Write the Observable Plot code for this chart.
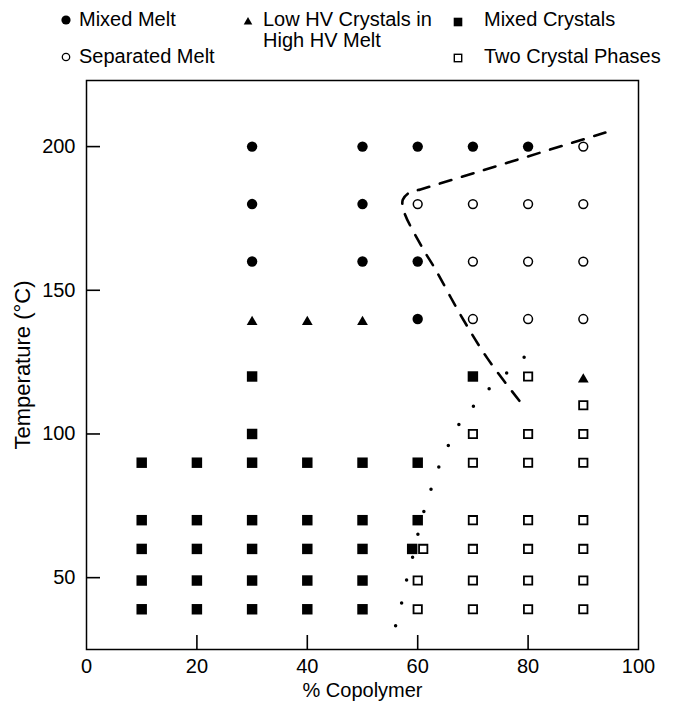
<!DOCTYPE html>
<html><head><meta charset="utf-8">
<script src="https://cdn.jsdelivr.net/npm/d3@7"></script>
<script src="https://cdn.jsdelivr.net/npm/@observablehq/plot@0.6"></script>
<style>
body{margin:0;background:#fff;font-family:"Liberation Sans",Arial,Helvetica,sans-serif;color:#000;}
#legend{position:relative;width:680px;height:72px;font-size:20px;}
#legend svg{position:absolute;left:0;top:0;}
.lab{position:absolute;line-height:21px;white-space:nowrap;}
.lab div{height:21px;}
</style></head><body>
<div id="legend"></div>
<div id="chart"></div>
<script>
// ---- data ----
const phases = ["Mixed Melt", "Separated Melt", "Low HV Crystals in\nHigh HV Melt", "Mixed Crystals", "Two Crystal Phases"];
const xDomain = [0, 100];
const yDomain = [25, 223];
const xTicks = [0, 20, 40, 60, 80, 100];
const xTickMarks = [20, 40, 60, 80];
const yTicks = [50, 100, 150, 200];
const mixedMelt = [[30,200],[50,200],[60,200],[70,200],[80,200],[30,180],[50,180],[30,160],[50,160],[60,160],[60,140]];
const separatedMelt = [[90,200],[60,180],[70,180],[80,180],[90,180],[70,160],[80,160],[90,160],[70,140],[80,140],[90,140]];
const lowHVCrystals = [[30,139],[40,139],[50,139],[90,119]];
const mixedCrystals = [[30,120],[70,120],[30,100],
  [10,90],[20,90],[30,90],[40,90],[50,90],[60,90],
  [10,70],[20,70],[30,70],[40,70],[50,70],[60,70],
  [10,60],[20,60],[30,60],[40,60],[50,60],[59,60],
  [10,49],[20,49],[30,49],[40,49],[50,49],
  [10,39],[20,39],[30,39],[40,39],[50,39]];
const twoCrystalPhases = [[80,120],[90,110],[70,100],[80,100],[90,100],[70,90],[80,90],[90,90],
  [70,70],[80,70],[90,70],[61,60],[70,60],[80,60],[90,60],
  [60,49],[70,49],[80,49],[90,49],[60,39],[70,39],[80,39],[90,39]];
// phase boundaries
const meltBoundary = [[94.0,204.9],[60.5,185.1],[58.5,184.0],[57.3,181.5],[57.5,177.5],[60.7,165.3],[63.2,157.3],[67.8,141.3],[72.6,126.4],[78.6,111.1]];
const crystalBoundary = [[56.0,33.3],[57.1,41.3],[58.0,49.3],[59.1,57.3],[60.1,65.6],[61.2,73.6],[62.5,81.3],[63.9,88.9],[65.6,96.2],[67.6,103.8],[70.1,109.7],[73.2,116.3],[76.3,121.5],[79.3,126.7]];

// ---- legend (layout only) ----
const legendLayout = [
  {cx:66, cy:20, tx:79, ty:9, sym:"circle", filled:true},
  {cx:66, cy:57, tx:79, ty:46, sym:"circle", filled:false},
  {cx:248, cy:21, tx:263, ty:9, sym:"triangle", filled:true},
  {cx:458, cy:22, tx:484, ty:9, sym:"square", filled:true},
  {cx:458, cy:58, tx:484, ty:46, sym:"square", filled:false}
];
const legend = d3.select("#legend");
const lsvg = legend.append("svg").attr("width", 680).attr("height", 72);
phases.forEach((p, i) => {
  const L = legendLayout[i];
  if (L.sym === "circle") lsvg.append("circle").attr("cx", L.cx).attr("cy", L.cy).attr("r", L.filled ? 4.6 : 3.7)
      .attr("fill", L.filled ? "#000" : "#fff").attr("stroke", "#000").attr("stroke-width", L.filled ? 0 : 1.3);
  if (L.sym === "triangle") lsvg.append("path").attr("transform", `translate(${L.cx},${L.cy})`)
      .attr("d", "M0,-4L4.3,3.5L-4.3,3.5Z").attr("fill", "#000");
  if (L.sym === "square") {
    const s = L.filled ? 8.6 : 7.4;
    lsvg.append("rect").attr("x", L.cx - s/2).attr("y", L.cy - s/2).attr("width", s).attr("height", s)
      .attr("fill", L.filled ? "#000" : "#fff").attr("stroke", "#000").attr("stroke-width", L.filled ? 0 : 1.4);
  }
  const t = legend.append("div").attr("class", "lab").style("left", L.tx + "px").style("top", L.ty + "px");
  p.split("\n").forEach(line => t.append("div").text(line));
});

// ---- chart ----
const W = 680, H = 635, mT = 8, mB = 58, mL = 86, mR = 42, tickLen = 14;
const plotW = W - mL - mR, plotH = H - mT - mB;
const xTickEnd = xDomain[0] + (xDomain[1] - xDomain[0]) * tickLen / plotW;   // inward tick length in x units
const yTickEnd = yDomain[0] + (yDomain[1] - yDomain[0]) * tickLen / plotH;   // inward tick length in y units
const chart = Plot.plot({
  width: W, height: H,
  marginTop: mT, marginBottom: mB, marginLeft: mL, marginRight: mR,
  style: {fontFamily: "'Liberation Sans', Arial, Helvetica, sans-serif", fontSize: "20px", color: "#000", background: "#fff"},
  x: {domain: xDomain},
  y: {domain: yDomain},
  marks: [
    Plot.frame({stroke: "#000", strokeWidth: 1.5}),
    Plot.ruleX(xTickMarks, {x: d => d, y1: yDomain[0], y2: yTickEnd, stroke: "#000", strokeWidth: 1.6}),
    Plot.ruleY(yTicks, {y: d => d, x1: xDomain[0], x2: xTickEnd, stroke: "#000", strokeWidth: 1.6}),
    Plot.axisX(xTicks, {tickSize: 0, tickPadding: 9, label: "% Copolymer", labelAnchor: "center", labelOffset: 47, labelArrow: "none"}),
    Plot.axisY(yTicks, {tickSize: 0, tickPadding: 11, label: null}),
    Plot.axisY(yTicks, {tickSize: 0, tickFormat: () => "", label: "Temperature (°C)", labelAnchor: "center", labelOffset: 72, labelArrow: "none", fontSize: 22}),
    Plot.line(meltBoundary, {x: d => d[0], y: d => d[1], curve: "catmull-rom", stroke: "#000", strokeWidth: 2.6, strokeDasharray: "12,11"}),
    Plot.line(crystalBoundary, {x: d => d[0], y: d => d[1], stroke: "#000", strokeWidth: 3.5, strokeLinecap: "round", strokeDasharray: "0,23.5"}),
    Plot.dot(mixedMelt, {x: d => d[0], y: d => d[1], r: 5.2, fill: "#000", stroke: "none"}),
    Plot.dot(separatedMelt, {x: d => d[0], y: d => d[1], r: 4.4, fill: "#fff", stroke: "#000", strokeWidth: 1.5}),
    Plot.dot(lowHVCrystals, {x: d => d[0], y: d => d[1], symbol: "triangle", r: 4.0, fill: "#000", stroke: "none"}),
    Plot.dot(mixedCrystals, {x: d => d[0], y: d => d[1], symbol: "square", r: 5.9, fill: "#000", stroke: "none"}),
    Plot.dot(twoCrystalPhases, {x: d => d[0], y: d => d[1], symbol: "square", r: 4.7, fill: "#fff", stroke: "#000", strokeWidth: 1.8})
  ]
});
document.getElementById("chart").appendChild(chart);
</script>
</body></html>
